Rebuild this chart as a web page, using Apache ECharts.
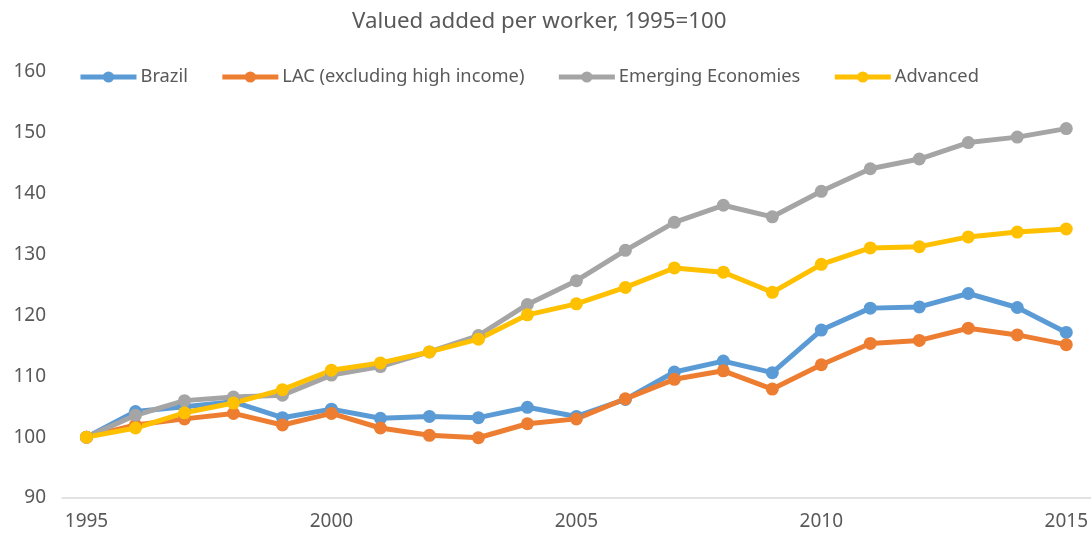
<!DOCTYPE html>
<html>
<head>
<meta charset="utf-8">
<script src="https://cdn.jsdelivr.net/npm/echarts@6/dist/echarts.min.js"></script>
<style>
  html, body { margin: 0; padding: 0; background: #fff; }
  #chart { width: 1091px; height: 537px; }
</style>
</head>
<body>
<div id="chart"></div>
<script>
var years = ['1995', '1996', '1997', '1998', '1999', '2000', '2001', '2002', '2003', '2004', '2005',
             '2006', '2007', '2008', '2009', '2010', '2011', '2012', '2013', '2014', '2015'];

var brazil   = [100, 104.2, 105.0, 105.8, 103.2, 104.6, 103.1, 103.4, 103.2, 104.9, 103.4,
                106.2, 110.7, 112.5, 110.6, 117.6, 121.2, 121.4, 123.6, 121.3, 117.2];
var lac      = [100, 102.0, 103.0, 103.9, 102.0, 103.9, 101.5, 100.3, 99.9, 102.2, 103.0,
                106.3, 109.5, 110.9, 107.9, 111.9, 115.4, 115.9, 117.9, 116.8, 115.2];
var emerging = [100, 103.6, 106.0, 106.6, 106.9, 110.2, 111.6, 114.0, 116.7, 121.8, 125.7,
                130.7, 135.3, 138.1, 136.2, 140.4, 144.1, 145.7, 148.4, 149.3, 150.7];
var advanced = [100, 101.5, 104.0, 105.6, 107.8, 111.0, 112.2, 114.0, 116.1, 120.1, 121.9,
                124.6, 127.8, 127.1, 123.8, 128.4, 131.1, 131.3, 132.9, 133.7, 134.2];

var names  = ['Brazil', 'LAC (excluding high income)', 'Emerging Economies', 'Advanced'];
var colors = ['#5B9BD5', '#ED7D31', '#A5A5A5', '#FFC000'];
var values = [brazil, lac, emerging, advanced];

var font = '"Noto Sans", "Open Sans", sans-serif';

function makeSeries(i) {
    return {
        name: names[i],
        type: 'line',
        data: values[i],
        symbol: 'circle',
        symbolSize: 13,
        itemStyle: { color: colors[i] },
        lineStyle: { color: colors[i], width: 5 },
        emphasis: { disabled: true },
        animation: false
    };
}

var option = {
    backgroundColor: '#fff',
    color: colors,
    title: {
        text: 'Valued added per worker, 1995=100',
        left: 347,
        top: 6,
        textStyle: { fontFamily: font, fontSize: 22.3, fontWeight: 'normal', color: '#595959' }
    },
    legend: {
        data: names,
        left: 73,
        top: 63,
        itemWidth: 56,
        itemHeight: 14,
        itemGap: 32,
        lineStyle: { width: 5 },
        textStyle: { fontFamily: font, fontSize: 18.3, color: '#595959', padding: [0, 0, 0, -1] }
    },
    grid: { left: 62, right: 0, top: 72, bottom: 39 },
    xAxis: {
        type: 'category',
        data: years,
        boundaryGap: true,
        axisLine: { lineStyle: { color: '#D9D9D9', width: 1.5 } },
        axisTick: { show: false },
        axisLabel: { interval: 4, margin: 14, fontFamily: font, fontSize: 19, color: '#595959' }
    },
    yAxis: {
        type: 'value',
        min: 90,
        max: 160,
        interval: 10,
        axisLine: { show: false },
        axisTick: { show: false },
        splitLine: { show: false },
        axisLabel: { margin: 16, fontFamily: font, fontSize: 19, color: '#595959' }
    },
    series: [makeSeries(0), makeSeries(1), makeSeries(2), makeSeries(3)]
};

var chart = echarts.init(document.getElementById('chart'));
chart.setOption(option);
</script>
</body>
</html>
